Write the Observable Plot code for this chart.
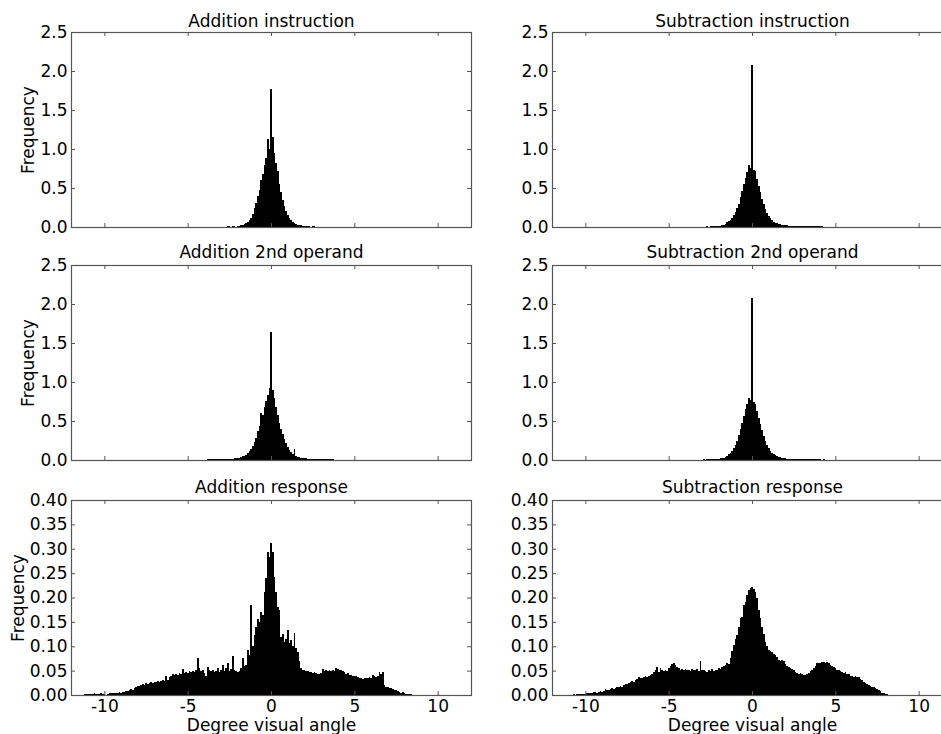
<!DOCTYPE html>
<html>
<head>
<meta charset="utf-8">
<script src="https://cdn.jsdelivr.net/npm/d3@7"></script>
<script src="https://cdn.jsdelivr.net/npm/@observablehq/plot@0.6"></script>
<style>
  body { margin: 0; background: #fff; }
  #chart { position: relative; width: 941px; height: 734px; overflow: hidden; background: #fff; }
  #chart svg { position: absolute; overflow: visible; }
</style>
</head>
<body>
<div id="chart"></div>
<script>
// ---------- data (bin width 0.1, heights = frequency density) ----------
const binWidth = 0.1;

const xTicks = [-10, -5, 0, 5, 10];
const yTicksStim = [0, 0.5, 1.0, 1.5, 2.0, 2.5];
const yTicksResp = [0, 0.05, 0.10, 0.15, 0.20, 0.25, 0.30, 0.35, 0.40];

const titles = ["Addition instruction", "Subtraction instruction",
                "Addition 2nd operand", "Subtraction 2nd operand",
                "Addition response", "Subtraction response"];

// Addition instruction: first bin centre -2.6
const addInstrFirst = -2.6;
const addInstrHeights = [
  0.01, 0.01, 0.005, 0.01, 0.01, 0.005, 0.015, 0.015, 0.02, 0.03,
  0.04, 0.05, 0.07, 0.09, 0.12, 0.17, 0.24, 0.31, 0.40, 0.48,
  0.60, 0.68, 0.80, 0.88, 1.13, 1.00, 1.77, 1.15, 0.95, 0.82,
  0.72, 0.55, 0.45, 0.34, 0.27, 0.20, 0.15, 0.12, 0.09, 0.07,
  0.05, 0.04, 0.03, 0.025, 0.02, 0.015, 0.01, 0.015, 0.01, 0.01,
  0.005, 0.01, 0.01, 0.005
];

// Subtraction instruction: first bin centre -4.3
const subInstrFirst = -4.3;
const subInstrHeights = [
  0.003, 0.003, 0.004, 0.004, 0, 0, 0, 0, 0, 0,
  0, 0, 0.005, 0.005, 0.006, 0.005, 0.007, 0.006, 0.008, 0.008,
  0.01, 0.01, 0.012, 0.015, 0.018, 0.022, 0.03, 0.04, 0.06, 0.075,
  0.095, 0.12, 0.15, 0.19, 0.25, 0.30, 0.38, 0.46, 0.55, 0.63,
  0.70, 0.80, 0.76, 2.08, 0.73, 0.72, 0.62, 0.52, 0.45, 0.36,
  0.29, 0.23, 0.18, 0.14, 0.11, 0.085, 0.068, 0.055, 0.045, 0.038,
  0.033, 0.028, 0.025, 0.022, 0.02, 0.018, 0.016, 0.015, 0.014, 0.013,
  0.012, 0.012, 0.011, 0.01, 0.01, 0.01, 0.012, 0.01, 0.009, 0.01,
  0.008, 0.01, 0.008, 0.009, 0.007, 0.008, 0.006, 0.005
];

// Addition 2nd operand: first bin centre -3.9
const addOperFirst = -3.9;
const addOperHeights = [
  0.005, 0.008, 0.008, 0.01, 0.008, 0.01, 0.01, 0.012, 0.01, 0.012,
  0.012, 0.01, 0.014, 0.012, 0.015, 0.014, 0.018, 0.02, 0.022, 0.028,
  0.032, 0.038, 0.045, 0.055, 0.065, 0.085, 0.11, 0.14, 0.18, 0.23,
  0.28, 0.37, 0.44, 0.60, 0.58, 0.68, 0.76, 0.83, 0.92, 1.64,
  0.90, 0.79, 0.68, 0.58, 0.48, 0.40, 0.33, 0.27, 0.22, 0.17,
  0.13, 0.10, 0.08, 0.14, 0.05, 0.042, 0.035, 0.03, 0.025, 0.022,
  0.02, 0.018, 0.016, 0.015, 0.014, 0.012, 0.013, 0.011, 0.01, 0.012,
  0.01, 0.01, 0.011, 0.009, 0.01, 0.008, 0.009, 0.006, 0.004
];

// Subtraction 2nd operand: first bin centre -4.3
const subOperFirst = -4.3;
const subOperHeights = [
  0.003, 0.004, 0.003, 0.004, 0.004, 0.003, 0.005, 0.004, 0.004, 0.005,
  0.005, 0.006, 0.005, 0.006, 0.007, 0.006, 0.01, 0.008, 0.012, 0.01,
  0.012, 0.014, 0.016, 0.018, 0.02, 0.025, 0.032, 0.04, 0.055, 0.075,
  0.095, 0.12, 0.155, 0.19, 0.25, 0.32, 0.40, 0.48, 0.57, 0.65,
  0.72, 0.80, 0.77, 2.08, 0.75, 0.72, 0.63, 0.54, 0.46, 0.38,
  0.31, 0.24, 0.19, 0.15, 0.12, 0.09, 0.072, 0.058, 0.048, 0.04,
  0.034, 0.028, 0.024, 0.02, 0.018, 0.016, 0.014, 0.013, 0.012, 0.011,
  0.01, 0.009, 0.01, 0.009, 0.01, 0.008, 0.009, 0.01, 0.008, 0.009,
  0.01, 0.008, 0.009, 0.007, 0.008, 0.006, 0.007, 0.004
];

// Addition response: first bin centre -11.2
const addRespFirst = -11.2;
const addRespHeights = [
  0.002, 0.003, 0.002,
  0.003, 0.002, 0.003, 0.004, 0.003, 0.002, 0.003, 0.004, 0.003, 0.002,
  0.001, 0.002, 0.004, 0.005, 0.005, 0.004, 0.005, 0.004, 0.006, 0.005,
  0.006, 0.007, 0.008, 0.009, 0.010, 0.012, 0.011, 0.014, 0.016, 0.018,
  0.019, 0.020, 0.022, 0.021, 0.024, 0.023, 0.025, 0.026, 0.025, 0.027,
  0.026, 0.028, 0.027, 0.029, 0.030, 0.028, 0.038, 0.031, 0.036, 0.040,
  0.043, 0.041, 0.044, 0.042, 0.046, 0.044, 0.053, 0.045, 0.048, 0.046,
  0.049, 0.047, 0.050, 0.048, 0.051, 0.075, 0.055, 0.050, 0.052, 0.046,
  0.038, 0.057, 0.052, 0.049, 0.051, 0.047, 0.050, 0.056, 0.048, 0.052,
  0.062, 0.050, 0.055, 0.065, 0.050, 0.054, 0.080, 0.052, 0.050, 0.048,
  0.050, 0.056, 0.075, 0.060, 0.062, 0.092, 0.082, 0.185, 0.100, 0.123,
  0.140, 0.156, 0.150, 0.171, 0.165, 0.212, 0.240, 0.294, 0.284, 0.311,
  0.294, 0.243, 0.212, 0.181, 0.174, 0.120, 0.125, 0.109, 0.115, 0.133,
  0.106, 0.112, 0.100, 0.128, 0.096, 0.089, 0.070, 0.055, 0.052, 0.051,
  0.050, 0.049, 0.048, 0.048, 0.046, 0.047, 0.045, 0.043, 0.044, 0.046,
  0.053, 0.050, 0.051, 0.050, 0.052, 0.049, 0.051, 0.050, 0.055, 0.053,
  0.051, 0.051, 0.049, 0.047, 0.044, 0.046, 0.042, 0.041, 0.040, 0.038,
  0.039, 0.036, 0.035, 0.034, 0.033, 0.035, 0.034, 0.034, 0.036, 0.035,
  0.041, 0.038, 0.036, 0.040, 0.048, 0.044, 0.047, 0.020, 0.017, 0.016,
  0.015, 0.015, 0.013, 0.011, 0.010, 0.009, 0.007, 0.005, 0.006, 0.004,
  0.003, 0.002, 0.003, 0.002, 0.001
];

// Subtraction response: first bin centre -11.2
const subRespFirst = -11.2;
const subRespHeights = [
  0.001, 0.001, 0.001,
  0.001, 0.001, 0.002, 0.001, 0.002, 0.002, 0.002, 0.003, 0.002, 0.003,
  0.004, 0.005, 0.004, 0.005, 0.006, 0.006, 0.005, 0.007, 0.008, 0.007,
  0.009, 0.012, 0.010, 0.011, 0.013, 0.014, 0.012, 0.015, 0.016, 0.017,
  0.018, 0.017, 0.020, 0.023, 0.022, 0.024, 0.026, 0.028, 0.027, 0.030,
  0.032, 0.036, 0.034, 0.035, 0.037, 0.038, 0.036, 0.040, 0.042, 0.044,
  0.047, 0.052, 0.058, 0.048, 0.055, 0.052, 0.050, 0.051, 0.049, 0.056,
  0.060, 0.063, 0.065, 0.061, 0.057, 0.055, 0.052, 0.054, 0.051, 0.053,
  0.051, 0.052, 0.050, 0.053, 0.052, 0.051, 0.054, 0.050, 0.070, 0.052,
  0.051, 0.050, 0.048, 0.051, 0.050, 0.053, 0.049, 0.051, 0.052, 0.055,
  0.054, 0.058, 0.060, 0.062, 0.065, 0.064, 0.075, 0.090, 0.103, 0.115,
  0.123, 0.140, 0.157, 0.160, 0.185, 0.190, 0.205, 0.215, 0.220, 0.222,
  0.218, 0.212, 0.198, 0.174, 0.157, 0.140, 0.125, 0.109, 0.100, 0.092,
  0.090, 0.089, 0.085, 0.082, 0.078, 0.072, 0.070, 0.071, 0.070, 0.064,
  0.060, 0.058, 0.055, 0.054, 0.051, 0.048, 0.046, 0.044, 0.045, 0.043,
  0.042, 0.042, 0.044, 0.046, 0.049, 0.051, 0.055, 0.060, 0.065, 0.066,
  0.065, 0.068, 0.068, 0.066, 0.067, 0.065, 0.062, 0.060, 0.058, 0.055,
  0.052, 0.051, 0.050, 0.048, 0.046, 0.047, 0.044, 0.043, 0.040, 0.038,
  0.037, 0.038, 0.036, 0.036, 0.033, 0.030, 0.027, 0.024, 0.022, 0.020,
  0.018, 0.017, 0.016, 0.014, 0.013, 0.011, 0.008, 0.005, 0.004, 0.003,
  0.002, 0.001, 0.001
];

const xLabel = "Degree visual angle";
const yLabel = "Frequency";

// ---------- build ----------
function toBins(first, heights) {
  return heights.map((h, i) => {
    const c = Math.round((first + i * binWidth) * 100) / 100;
    return {x1: c - binWidth / 2, x2: c + binWidth / 2, y: h};
  });
}

const panels = [
  {title: titles[0], first: addInstrFirst, heights: addInstrHeights, yTicks: yTicksStim, digits: 1, row: 0, col: 0},
  {title: titles[1], first: subInstrFirst, heights: subInstrHeights, yTicks: yTicksStim, digits: 1, row: 0, col: 1},
  {title: titles[2], first: addOperFirst, heights: addOperHeights, yTicks: yTicksStim, digits: 1, row: 1, col: 0},
  {title: titles[3], first: subOperFirst, heights: subOperHeights, yTicks: yTicksStim, digits: 1, row: 1, col: 1},
  {title: titles[4], first: addRespFirst, heights: addRespHeights, yTicks: yTicksResp, digits: 2, row: 2, col: 0},
  {title: titles[5], first: subRespFirst, heights: subRespHeights, yTicks: yTicksResp, digits: 2, row: 2, col: 1}
];

const chart = document.getElementById("chart");
const frameTops = [32, 265, 500];
const frameH = 195, frameW = 400, mt = 32, ml = 71;
const ink = "#555555";
const font = "DejaVu Sans";

for (const p of panels) {
  const bottom = p.row === 2;
  const mb = bottom ? 39 : 6;
  const yMax = p.yTicks[p.yTicks.length - 1];
  const marks = [
    Plot.rect(toBins(p.first, p.heights), {x1: "x1", x2: "x2", y1: 0, y2: "y", fill: "black", shapeRendering: "crispEdges"}),
    Plot.ruleX(xTicks, {x: d => d, insetTop: frameH - 4, stroke: ink}),
    Plot.ruleX(xTicks, {x: d => d, insetBottom: frameH - 4, stroke: ink}),
    Plot.ruleY(p.yTicks, {y: d => d, insetRight: frameW - 4, stroke: ink}),
    Plot.ruleY(p.yTicks, {y: d => d, insetLeft: frameW - 4, stroke: ink}),
    Plot.frame({stroke: ink, strokeWidth: 1.2}),
    Plot.text(p.yTicks, {y: d => d, text: d => d.toFixed(p.digits), frameAnchor: "left", textAnchor: "end", lineAnchor: "middle", dx: -4, fill: "black", fontSize: 17}),
    Plot.text([p.title], {frameAnchor: "top", textAnchor: "middle", lineAnchor: "middle", dy: p.row === 0 ? -11 : -13, fill: "black", fontSize: 17})
  ];
  if (p.col === 0) {
    marks.push(Plot.text([yLabel], {frameAnchor: "left", textAnchor: "middle", lineAnchor: "middle", dx: bottom ? -52.5 : -43, rotate: -90, fill: "black", fontSize: 17}));
  }
  if (bottom) {
    marks.push(Plot.text(xTicks, {x: d => d, text: d => String(d), frameAnchor: "bottom", textAnchor: "middle", lineAnchor: "top", dy: 4, fill: "black", fontSize: 17}));
    marks.push(Plot.text([xLabel], {frameAnchor: "bottom", textAnchor: "middle", lineAnchor: "middle", dy: 30, fill: "black", fontSize: 17}));
  }
  const svg = Plot.plot({
    width: ml + frameW + 9,
    height: mt + frameH + mb,
    marginLeft: ml, marginRight: 9, marginTop: mt, marginBottom: mb,
    style: {fontFamily: font, fontSize: "17px", background: "transparent", color: "black", overflow: "visible"},
    x: {domain: [-12, 12], axis: null},
    y: {domain: [0, yMax], axis: null},
    marks
  });
  svg.style.left = (p.col === 0 ? 0 : 481) + "px";
  svg.style.top = (frameTops[p.row] - mt) + "px";
  chart.appendChild(svg);
}
</script>
</body>
</html>
